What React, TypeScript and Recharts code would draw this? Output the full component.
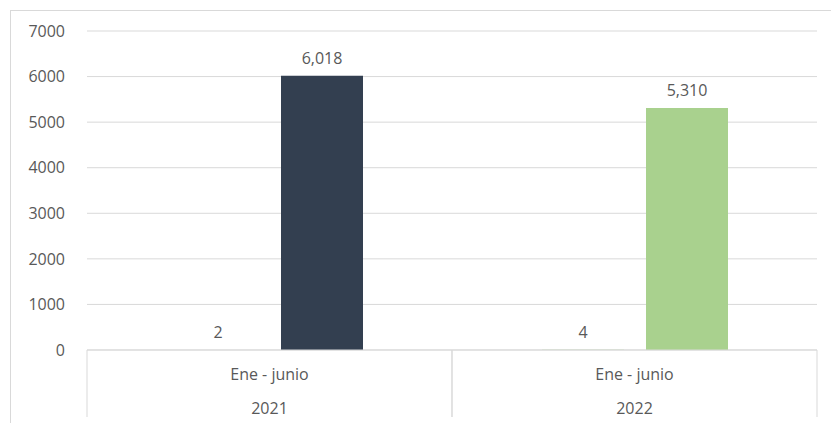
import { BarChart, Bar, XAxis, YAxis, CartesianGrid, Cell, LabelList } from 'recharts';

const years = ['2021', '2022'];
const periods = ['Ene - junio', 'Ene - junio'];
const counts = [2, 4];
const totals = [6018, 5310];
const yTicks = [0, 1000, 2000, 3000, 4000, 5000, 6000, 7000];

const BAR_COLORS = ['#333F50', '#A9D18E'];
const TEXT = '#595959';
const GRID = '#D9D9D9';
const FS = 16;

const W = 831;
const H = 423;
const margin = { top: 31, right: 14, bottom: 3, left: 7 };
const Y_AXIS_W = 80;
const X_AXIS_H = 70;
const bandWidth = (W - margin.left - Y_AXIS_W - margin.right) / years.length;

const data = years.map((year, i) => ({
  year,
  period: periods[i],
  count: counts[i],
  total: totals[i],
}));

const CategoryTick = (props: any) => {
  const { x, y, payload } = props;
  const i = payload.index;
  const half = bandWidth / 2;
  return (
    <g>
      <line x1={x - half} y1={y} x2={x - half} y2={y + 67} stroke={GRID} />
      <line x1={x + half} y1={y} x2={x + half} y2={y + 67} stroke={GRID} />
      <text x={x} y={y + 24} textAnchor="middle" dominantBaseline="central" fill={TEXT} fontSize={FS}>
        {periods[i]}
      </text>
      <text x={x} y={y + 58} textAnchor="middle" dominantBaseline="central" fill={TEXT} fontSize={FS}>
        {years[i]}
      </text>
    </g>
  );
};

export default function App() {
  return (
    <div style={{ position: 'relative', width: W, height: H, overflow: 'hidden', fontFamily: '"Open Sans", sans-serif' }}>
      <style>{`body{margin:0}`}</style>
      <div
        style={{
          position: 'absolute',
          left: 10,
          top: 10,
          width: W,
          height: H,
          borderLeft: `1px solid ${GRID}`,
          borderTop: `1px solid ${GRID}`,
          boxSizing: 'border-box',
        }}
      />
      <div style={{ position: 'absolute', left: 0, top: 0 }}>
        <BarChart width={W} height={H} data={data} margin={margin} barSize={82} barGap={22}>
          <CartesianGrid vertical={false} stroke={GRID} />
          <XAxis
            dataKey="year"
            height={X_AXIS_H}
            axisLine={{ stroke: GRID }}
            tickLine={false}
            tickSize={0}
            tickMargin={0}
            interval={0}
            tick={<CategoryTick />}
          />
          <YAxis
            width={Y_AXIS_W}
            domain={[0, 7000]}
            ticks={yTicks}
            axisLine={false}
            tickLine={false}
            tickSize={0}
            tickMargin={22}
            tick={{ fill: TEXT, fontSize: FS }}
          />
          <Bar dataKey="count" isAnimationActive={false}>
            {data.map((d, i) => (
              <Cell key={`c-${d.year}`} fill={BAR_COLORS[i]} />
            ))}
            <LabelList dataKey="count" position="top" offset={12} fill={TEXT} fontSize={FS} />
          </Bar>
          <Bar dataKey="total" isAnimationActive={false}>
            {data.map((d, i) => (
              <Cell key={`t-${d.year}`} fill={BAR_COLORS[i]} />
            ))}
            <LabelList
              dataKey="total"
              position="top"
              offset={12}
              fill={TEXT}
              fontSize={FS}
              formatter={(v: any) => Number(v).toLocaleString('en-US')}
            />
          </Bar>
        </BarChart>
      </div>
    </div>
  );
}
